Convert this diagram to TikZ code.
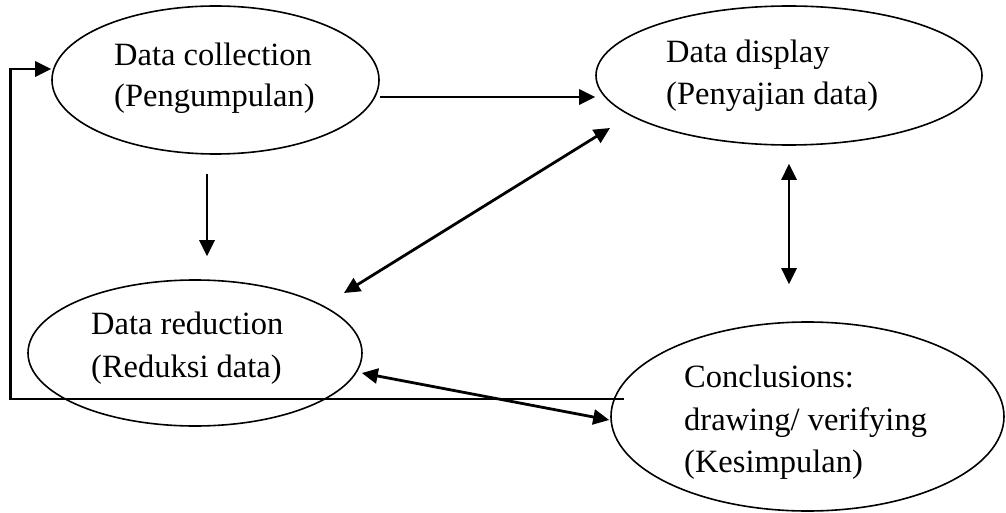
\documentclass[tikz,border=0pt]{standalone}
\usepackage{fontspec}
\setmainfont{Liberation Serif}
\usetikzlibrary{arrows.meta,shapes.geometric}
\begin{document}
\begin{tikzpicture}[x=1pt,y=-1pt,
  oval/.style={draw,ellipse,line width=1.6pt,inner sep=0pt},
  lbl/.style={anchor=base west,inner sep=0pt,font=\fontsize{32.5}{42}\selectfont},
  arr/.style={line width=2.8pt,-{Triangle[length=16pt,width=15pt]}},
  darr/.style={line width=2.8pt,{Triangle[length=16pt,width=15pt]}-{Triangle[length=16pt,width=15pt]}}]
\useasboundingbox (0,0) rectangle (1006,513);
% ellipses
\node[oval,minimum width=327pt,minimum height=148pt] (n1) at (215.5,80) {};
\node[oval,minimum width=386pt,minimum height=139pt] (n2) at (789,75.5) {};
\node[oval,minimum width=334pt,minimum height=146pt] (n3) at (195,353) {};
\node[oval,minimum width=393pt,minimum height=189pt] (n4) at (807.5,416.5) {};
% texts
\node[lbl] (t1a) at (114,66) {Data collection};
\node[lbl] (t1b) at (114,107) {(Pengumpulan)};
\node[lbl] (t2a) at (666,63) {Data display};
\node[lbl] (t2b) at (666,105) {(Penyajian data)};
\node[lbl] (t3a) at (91,334) {Data reduction};
\node[lbl] (t3b) at (91,377) {(Reduksi data)};
\node[lbl] (t4a) at (684,387) {Conclusions:};
\node[lbl] (t4b) at (684,430) {drawing/ verifying};
\node[lbl] (t4c) at (684,472) {(Kesimpulan)};
% connectors
\draw[arr] ([yshift=-17pt]n1.east) -- ([yshift=-21.5pt]n2.west);
\draw[arr] ([xshift=-8.5pt,yshift=-19pt]n1.south) -- ([xshift=12pt,yshift=23pt]n3.north);
\draw[darr] ([xshift=149pt,yshift=60pt]n3.center) -- ([xshift=-179pt,yshift=-52.5pt]n2.center);
\draw[darr] ([yshift=-18pt]n2.south) -- ([xshift=-18.5pt,yshift=37pt]n4.north);
\draw[darr] ([xshift=-1pt,yshift=-20pt]n3.east) -- ([xshift=-1pt,yshift=-3.5pt]n4.west);
\draw[arr] ([xshift=14pt,yshift=17.5pt]n4.west) -- ++(-614,0) |- ([yshift=11pt]n1.west);
\end{tikzpicture}
\end{document}
